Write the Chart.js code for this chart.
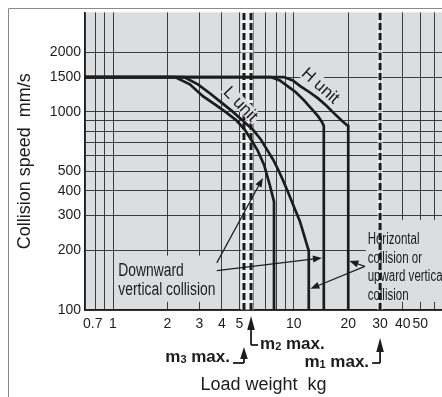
<!DOCTYPE html>
<html>
<head>
<meta charset="utf-8">
<script src="https://cdn.jsdelivr.net/npm/chart.js@4.4.0/dist/chart.umd.min.js"></script>
<style>
  html, body { margin: 0; padding: 0; background: #fff; }
  #wrap { width: 442px; height: 397px; }
</style>
</head>
<body>
<div id="wrap"><canvas id="speedChart" width="442" height="397"></canvas></div>
<script>
// values: load weight (kg) and allowable collision speed (mm/s)
const lDownKg = [0.7, 2.2, 2.66, 3.14, 3.71, 4.26, 4.84, 5.36, 5.8, 6.3, 6.85, 7.35, 7.77, 7.77];
const lDownSpeed = [1500, 1500, 1378, 1201, 1083, 989, 902, 813, 726, 640, 540, 430, 352, 100];
const lHorizKg = [0.7, 2.47, 2.95, 3.43, 3.95, 4.54, 5.23, 5.94, 6.57, 7.09, 7.66, 8.16, 8.7, 9.27, 10.0, 10.8, 11.36, 11.95, 12.1, 12.1];
const lHorizSpeed = [1500, 1500, 1378, 1243, 1121, 1012, 902, 813, 726, 647, 577, 515, 453, 395, 333, 281, 241, 206, 200, 100];
const hDownKg = [0.7, 7.46, 8.37, 9.27, 10.26, 11.36, 12.4, 13.57, 14.28, 14.65, 14.65];
const hDownSpeed = [1500, 1500, 1443, 1347, 1257, 1147, 1047, 955, 892, 851, 100];
const hHorizKg = [0.7, 8.82, 9.87, 10.9, 12.23, 13.57, 15.0, 16.6, 18.2, 19.6, 20, 20];
const hHorizSpeed = [1500, 1500, 1443, 1347, 1257, 1174, 1083, 989, 912, 860, 851, 100];

// maximum load weights (dashed lines)
const m1Max = 30;
const m2Max = 5.8;
const m3Max = 5.3;

// axis ticks
const xGridKg = [0.7, 0.8, 0.9, 1, 2, 3, 4, 5, 6, 7, 8, 9, 10, 20, 30, 40, 50, 60];
const xTickLabels = [0.7, 1, 2, 3, 4, 5, 10, 20, 30, 40, 50];
const yGridSpeed = [100, 200, 300, 400, 500, 600, 700, 800, 900, 1000, 1500, 2000];
const yTickLabels = [100, 200, 300, 400, 500, 1000, 1500, 2000];

const xMin = 0.7, xMax = 66, yMin = 100, yMax = 3180;

const plotBg = '#dcdddf';
const ink = '#1c1c1c';

function pts(xs, ys) {
    return xs.map((x, i) => ({ x: x, y: ys[i] }));
}

function curve(label, xs, ys) {
    return {
        label: label,
        data: pts(xs, ys),
        borderColor: ink,
        borderWidth: 2.7,
        pointRadius: 0,
        tension: 0,
        fill: false,
        order: 1
    };
}

function maxLine(label, kg) {
    return {
        label: label,
        data: pts([kg, kg], [yMin, yMax]),
        borderColor: ink,
        borderWidth: 3,
        borderDash: [7, 3],
        borderCapStyle: 'butt',
        pointRadius: 0,
        fill: false,
        order: 2
    };
}

// arrow helper
function arrow(ctx, x1, y1, x2, y2, len, half) {
    const ang = Math.atan2(y2 - y1, x2 - x1);
    ctx.beginPath();
    ctx.moveTo(x1, y1);
    ctx.lineTo(x2 - Math.cos(ang) * len * 0.6, y2 - Math.sin(ang) * len * 0.6);
    ctx.stroke();
    ctx.beginPath();
    ctx.moveTo(x2, y2);
    ctx.lineTo(x2 - Math.cos(ang) * len - Math.sin(ang) * half, y2 - Math.sin(ang) * len + Math.cos(ang) * half);
    ctx.lineTo(x2 - Math.cos(ang) * len + Math.sin(ang) * half, y2 - Math.sin(ang) * len - Math.cos(ang) * half);
    ctx.closePath();
    ctx.fill();
}

// narrow text like the condensed face of the original
function squeezedText(ctx, str, px, py, size, squeeze, align) {
    ctx.save();
    ctx.translate(px, py);
    ctx.scale(squeeze, 1);
    ctx.font = size + 'px "Liberation Sans", Arial, sans-serif';
    ctx.textAlign = align || 'left';
    ctx.textBaseline = 'alphabetic';
    ctx.fillText(str, 0, 0);
    ctx.restore();
}

function rotatedLabel(ctx, str, px, py, deg, boxH) {
    ctx.save();
    ctx.translate(px, py);
    ctx.rotate(deg * Math.PI / 180);
    ctx.font = '17px "Liberation Sans", Arial, sans-serif';
    ctx.textAlign = 'center';
    ctx.textBaseline = 'middle';
    const w = ctx.measureText(str).width;
    ctx.fillStyle = plotBg;
    ctx.fillRect(-w / 2 - 2, -boxH / 2, w + 4, boxH);
    ctx.fillStyle = ink;
    ctx.fillText(str, 0, 1);
    ctx.restore();
}

function mLabel(ctx, sub, px, py, align) {
    ctx.save();
    ctx.fillStyle = ink;
    ctx.textBaseline = 'alphabetic';
    const big = 'bold 17px "Liberation Sans", Arial, sans-serif';
    const small = 'bold 11px "Liberation Sans", Arial, sans-serif';
    ctx.font = big;
    const wm = ctx.measureText('m').width;
    const wr = ctx.measureText(' max.').width;
    ctx.font = small;
    const ws = ctx.measureText(sub).width;
    let x0 = align === 'right' ? px - (wm + ws + wr) : px;
    ctx.textAlign = 'left';
    ctx.font = big;
    ctx.fillText('m', x0, py);
    ctx.font = small;
    ctx.fillText(sub, x0 + wm, py + 1);
    ctx.font = big;
    ctx.fillText(' max.', x0 + wm + ws, py);
    ctx.restore();
}

// annotation positions in data units (kg, mm/s)
const downBox = [1.03, 3.85, 110, 188];
const horizBox = [25, 66, 110, 285];
const downText = ['Downward', 'vertical collision'];
const downTextKg = 1.07, downTextSpeed = [149, 119];
const horizText = ['Horizontal', 'collision or', 'upward vertical', 'collision'];
const horizTextKg = 25.6, horizTextSpeed = [215, 173, 139.4, 112];
const arrows = [
    [3.75, 173, 6.74, 464],
    [3.75, 158, 14.3, 183],
    [24.7, 166, 20.3, 177],
    [24.7, 166, 12.35, 128]
];
const lUnitPos = [5.1, 1100], hUnitPos = [14.1, 1362];

const decor = {
    id: 'decor',
    beforeDraw(chart) {
        const { ctx, chartArea: a } = chart;
        ctx.save();
        ctx.fillStyle = plotBg;
        ctx.fillRect(a.left, a.top, a.right - a.left, a.bottom - a.top);
        ctx.strokeStyle = '#8a8a8a';
        ctx.lineWidth = 1;
        ctx.beginPath();
        ctx.moveTo(8.5, 397);
        ctx.lineTo(8.5, 8.5);
        ctx.lineTo(442, 8.5);
        ctx.stroke();
        ctx.restore();
    },
    beforeDatasetsDraw(chart) {
        const { ctx, chartArea: a, scales: { x, y } } = chart;
        ctx.save();
        // pale bands around the max-load lines
        ctx.fillStyle = 'rgba(255,255,255,0.55)';
        ctx.fillRect(x.getPixelForValue(5.1), a.top, x.getPixelForValue(6.0) - x.getPixelForValue(5.1), a.bottom - a.top);
        ctx.fillRect(x.getPixelForValue(29.0), a.top, x.getPixelForValue(31.0) - x.getPixelForValue(29.0), a.bottom - a.top);
        // text boxes hide the grid
        ctx.fillStyle = plotBg;
        [downBox, horizBox].forEach(b => {
            const l = x.getPixelForValue(b[0]), r = x.getPixelForValue(b[1]);
            const t = y.getPixelForValue(b[3]), btm = y.getPixelForValue(b[2]);
            ctx.fillRect(l, t, r - l, btm - t);
        });
        rotatedLabel(ctx, 'H unit', x.getPixelForValue(hUnitPos[0]), y.getPixelForValue(hUnitPos[1]), 42, 16);
        ctx.restore();
    },
    afterDatasetsDraw(chart) {
        const { ctx, chartArea: a, scales: { x, y } } = chart;
        ctx.save();
        ctx.fillStyle = ink;
        ctx.strokeStyle = ink;
        rotatedLabel(ctx, 'L unit', x.getPixelForValue(lUnitPos[0]), y.getPixelForValue(lUnitPos[1]), 46, 13);

        downText.forEach((s, i) => squeezedText(ctx, s, x.getPixelForValue(downTextKg), y.getPixelForValue(downTextSpeed[i]), 18, 0.77));
        horizText.forEach((s, i) => squeezedText(ctx, s, x.getPixelForValue(horizTextKg), y.getPixelForValue(horizTextSpeed[i]), 16, 0.72));

        ctx.lineWidth = 1.2;
        arrows.forEach(d => arrow(ctx, x.getPixelForValue(d[0]), y.getPixelForValue(d[1]),
            x.getPixelForValue(d[2]), y.getPixelForValue(d[3]), 9, 3.5));

        // max-load arrows under the axis
        ctx.lineWidth = 1.8;
        const b = a.bottom;
        const x2 = x.getPixelForValue(m2Max), x3 = x.getPixelForValue(m3Max), x1 = x.getPixelForValue(m1Max);
        arrow(ctx, x2, b + 35, x2, b + 6, 14, 3.8);
        ctx.beginPath(); ctx.moveTo(x2, b + 35); ctx.lineTo(x2 + 7, b + 35); ctx.stroke();
        mLabel(ctx, '2', x2 + 9, b + 39, 'left');

        arrow(ctx, x3, b + 53, x3, b + 37, 12, 3.8);
        ctx.beginPath(); ctx.moveTo(x3, b + 53); ctx.lineTo(x3 - 11, b + 53); ctx.stroke();
        mLabel(ctx, '3', x3 - 14, b + 52, 'right');

        arrow(ctx, x1, b + 53, x1, b + 28, 14, 3.8);
        ctx.beginPath(); ctx.moveTo(x1, b + 53); ctx.lineTo(x1 - 8, b + 53); ctx.stroke();
        mLabel(ctx, '1', x1 - 11, b + 57, 'right');
        ctx.restore();
    }
};

const datasets = [
    curve('L unit downward', lDownKg, lDownSpeed),
    curve('L unit horizontal', lHorizKg, lHorizSpeed),
    curve('H unit downward', hDownKg, hDownSpeed),
    curve('H unit horizontal', hHorizKg, hHorizSpeed),
    maxLine('m1 max.', m1Max),
    maxLine('m2 max.', m2Max),
    maxLine('m3 max.', m3Max)
];

const tickFont = { family: '"Liberation Sans", Arial, sans-serif', size: 14 };
const titleFont = { family: '"Liberation Sans", Arial, sans-serif', size: 18 };

new Chart(document.getElementById('speedChart'), {
    type: 'line',
    data: { datasets: datasets },
    options: {
        responsive: false,
        animation: false,
        layout: { padding: { top: 8, left: 0, right: 0, bottom: 0 } },
        plugins: { legend: { display: false }, tooltip: { enabled: false } },
        scales: {
            x: {
                type: 'logarithmic',
                min: xMin,
                max: xMax,
                afterFit(s) { s.height = 87; },
                afterBuildTicks(s) { s.ticks = xGridKg.map(v => ({ value: v })); },
                ticks: {
                    autoSkip: false,
                    maxRotation: 0,
                    padding: 6,
                    color: ink,
                    font: tickFont,
                    callback: v => v === 0.7 ? '    0.7' : (xTickLabels.includes(v) ? String(v) : '')
                },
                grid: { color: '#3c3c3c', lineWidth: 1, drawTicks: false },
                border: { color: ink, width: 1.2 },
                title: { display: true, text: 'Load weight  kg', color: ink, font: titleFont, padding: { top: 0, bottom: 1 } }
            },
            y: {
                type: 'logarithmic',
                min: yMin,
                max: yMax,
                afterFit(s) { s.width = 85; },
                afterBuildTicks(s) { s.ticks = yGridSpeed.map(v => ({ value: v })); },
                ticks: {
                    autoSkip: false,
                    padding: 4,
                    color: ink,
                    font: tickFont,
                    callback: v => yTickLabels.includes(v) ? String(v) : ''
                },
                grid: { color: '#3c3c3c', lineWidth: 1, drawTicks: false },
                border: { color: ink, width: 1.2 },
                title: { display: true, text: 'Collision speed  mm/s', color: ink, font: titleFont, padding: { top: 14, bottom: 0 } }
            }
        }
    },
    plugins: [decor]
});
</script>
</body>
</html>
